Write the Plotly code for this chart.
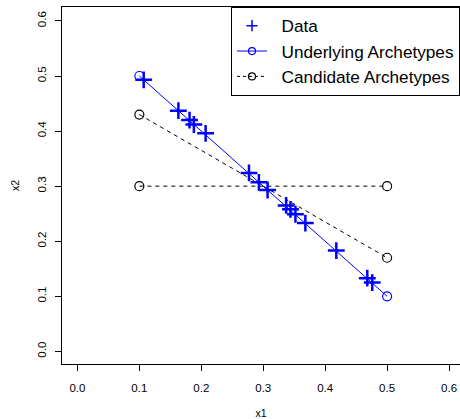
import plotly.graph_objects as go

# Data points (x1, x2)
data_x1 = [0.107, 0.163, 0.181, 0.188, 0.207, 0.277, 0.293, 0.307, 0.337, 0.344, 0.352, 0.368, 0.418, 0.468, 0.476]
data_x2 = [0.493, 0.437, 0.420, 0.412, 0.396, 0.324, 0.307, 0.293, 0.265, 0.258, 0.249, 0.233, 0.183, 0.133, 0.125]

# Underlying archetypes
under_x1 = [0.1, 0.5]
under_x2 = [0.5, 0.1]

# Candidate archetypes (two segments)
cand_x1 = [0.1, 0.5, None, 0.1, 0.5]
cand_x2 = [0.43, 0.17, None, 0.3, 0.3]

tick_vals = [0.0, 0.1, 0.2, 0.3, 0.4, 0.5, 0.6]
tick_text = ["0.0", "0.1", "0.2", "0.3", "0.4", "0.5", "0.6"]

legend_names = ["Data", "Underlying Archetypes", "Candidate Archetypes"]

FONT = "Liberation Sans, Arial, sans-serif"
BLUE = "#0000FF"
PAD = "\u00a0\u00a0"

fig = go.Figure()

# plotted traces (legend handled by legend-only entries below)
fig.add_trace(go.Scatter(
    x=under_x1, y=under_x2, mode="lines+markers", showlegend=False,
    line=dict(color=BLUE, width=1),
    marker=dict(symbol="circle-open", size=9, color=BLUE, line=dict(width=1.2, color=BLUE)),
))
fig.add_trace(go.Scatter(
    x=cand_x1, y=cand_x2, mode="lines+markers", showlegend=False,
    line=dict(color="black", width=1, dash="4px,4px"),
    marker=dict(symbol="circle-open", size=9, color="black", line=dict(width=1.2, color="black")),
    connectgaps=False,
))
fig.add_trace(go.Scatter(
    x=data_x1, y=data_x2, mode="markers", showlegend=False,
    marker=dict(symbol="cross-thin", size=12, color=BLUE, line=dict(width=2.5, color=BLUE)),
))

# legend entries (R-style small symbols)
fig.add_trace(go.Scatter(
    x=[None], y=[None], mode="markers", name=PAD + legend_names[0],
    marker=dict(symbol="cross-thin", size=8, color=BLUE, line=dict(width=1.5, color=BLUE)),
    legendrank=1,
))
fig.add_trace(go.Scatter(
    x=[None], y=[None], mode="lines+markers", name=PAD + legend_names[1],
    line=dict(color=BLUE, width=1),
    marker=dict(symbol="circle-open", size=7, color=BLUE, line=dict(width=1.2, color=BLUE)),
    legendrank=2,
))
fig.add_trace(go.Scatter(
    x=[None], y=[None], mode="lines+markers", name=PAD + legend_names[2],
    line=dict(color="black", width=1, dash="3px,3px"),
    marker=dict(symbol="circle-open", size=7, color="black", line=dict(width=1.2, color="black")),
    legendrank=3,
))

axis_common = dict(
    tickvals=tick_vals, ticktext=tick_text,
    showgrid=False, zeroline=False,
    showline=True, linecolor="black", linewidth=1,
    ticks="outside", ticklen=6, tickcolor="black", tickwidth=1,
    tickfont=dict(family=FONT, size=11.5, color="black"),
)

fig.update_layout(
    width=460, height=419,
    margin=dict(l=62, r=0, t=7, b=53),
    paper_bgcolor="white", plot_bgcolor="white",
    font=dict(family=FONT, color="black"),
    xaxis=dict(range=[-0.0249, 0.6177], ticklabelstandoff=7, mirror=True,
               title=dict(text="x1", font=dict(family=FONT, size=10.5), standoff=18),
               **axis_common),
    yaxis=dict(range=[-0.0229, 0.6253], tickangle=-90, ticklabelstandoff=4, mirror=False,
               title=dict(text="x2", font=dict(family=FONT, size=10.5), standoff=14),
               **axis_common),
    legend=dict(x=1, y=1, xanchor="right", yanchor="top",
                bgcolor="white", bordercolor="black", borderwidth=1,
                font=dict(family=FONT, size=17.2, color="black"),
                tracegroupgap=0, itemsizing="trace"),
    showlegend=True,
)

fig.write_html("out.html")
